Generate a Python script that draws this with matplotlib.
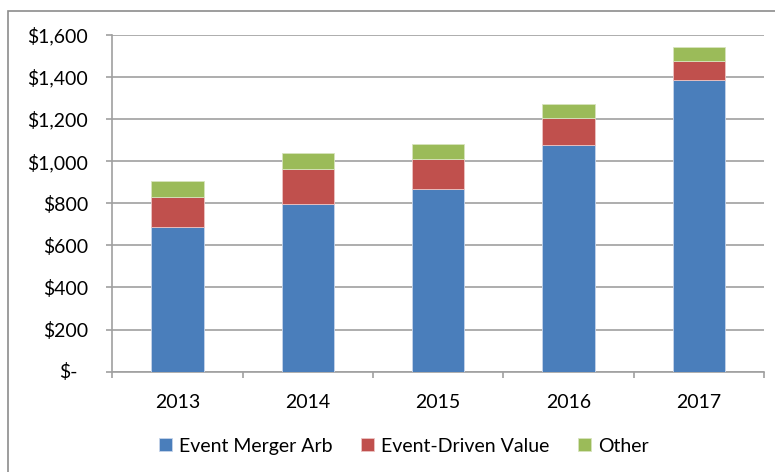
import matplotlib.pyplot as plt
from matplotlib.patches import Rectangle
import numpy as np

plt.rcParams['font.family'] = ['Lato', 'DejaVu Sans']

years = ["2013", "2014", "2015", "2016", "2017"]
merger_arb = [688, 795, 867, 1075, 1384]
event_driven = [143, 166, 144, 131, 90]
other = [74, 77, 70, 65, 66]

blue = "#4a7ebb"
red = "#c0504d"
green = "#9bbb59"
grid_col = "#a0a0a0"

fig = plt.figure(figsize=(7.75, 4.72), dpi=100)
ax = fig.add_axes([0.1449, 0.2125, 0.9858 - 0.1449, 0.9265 - 0.2125])

# chart frame
fig.patches.append(Rectangle((8 / 775, -0.05), 1.0, 1 - 11 / 472 + 0.05,
                             transform=fig.transFigure, fill=False,
                             edgecolor="#8c8c8c", linewidth=1.2))

x = np.arange(len(years))
w = 0.4
b1 = np.array(merger_arb)
b2 = b1 + np.array(event_driven)
ax.bar(x, merger_arb, w, color=blue, edgecolor="#c6d4ea", linewidth=0.6,
       label="Event Merger Arb", zorder=3)
ax.bar(x, event_driven, w, bottom=b1, color=red, edgecolor="#ecc4c3",
       linewidth=0.6, label="Event-Driven Value", zorder=3)
ax.bar(x, other, w, bottom=b2, color=green, edgecolor="#d7e4bd",
       linewidth=0.6, label="Other", zorder=3)

ax.set_xlim(-0.5, 4.5)
ax.set_ylim(0, 1600)
ax.set_yticks(np.arange(0, 1601, 200))
# zero label drawn separately below (accounting style dash)
ax.set_yticklabels([""] + ["${:,}".format(v) for v in range(200, 1601, 200)])
ax.set_xticks(x)
ax.set_xticklabels(years)
ax.set_xticks(np.arange(-0.5, 5, 1), minor=True)

ax.yaxis.grid(True, color=grid_col, linewidth=1.2, zorder=0)
ax.set_axisbelow(True)
for s in ["top", "right"]:
    ax.spines[s].set_visible(False)
for s in ["left", "bottom"]:
    ax.spines[s].set_color(grid_col)
    ax.spines[s].set_linewidth(1.2)

ax.tick_params(axis="y", length=4.5, color=grid_col, width=1.2, labelsize=14,
               pad=13)
ax.tick_params(axis="x", which="major", length=0, labelsize=14, pad=16)
ax.tick_params(axis="x", which="minor", length=4.5, color=grid_col, width=1.2)

ax.annotate("$-", xy=(0, 0), xycoords=("axes fraction", "data"),
            xytext=(-25, 0), textcoords="offset points",
            ha="right", va="center", fontsize=14)

fig.legend(loc="center", bbox_to_anchor=(0.521, 0.055), ncol=3, frameon=False,
           fontsize=14, handlelength=0.65, handleheight=0.65,
           handletextpad=0.35, columnspacing=1.5)

fig.savefig("out.png", dpi=100)
